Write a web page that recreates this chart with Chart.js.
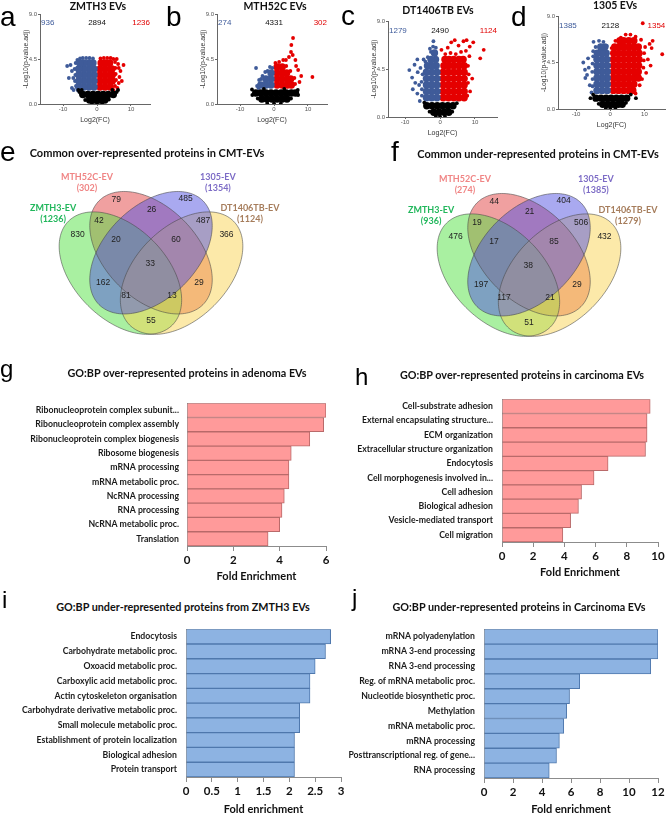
<!DOCTYPE html>
<html><head><meta charset="utf-8">
<script src="https://cdn.jsdelivr.net/npm/chart.js@4.4.1/dist/chart.umd.min.js"></script>
<style>
html,body{margin:0;padding:0;background:#fff;}
body{width:669px;height:814px;position:relative;overflow:hidden;}
canvas{position:absolute;}
.lt{position:absolute;font-family:'Liberation Sans',Arial,sans-serif;font-size:28px;line-height:28px;color:#000;}
.ls{position:absolute;font-family:'Liberation Sans',Arial,sans-serif;font-size:24px;line-height:24px;color:#000;}
.tt{position:absolute;transform:translate(-50%,-50%);font-family:Lato,sans-serif;font-weight:bold;font-size:10.8px;line-height:1;white-space:nowrap;color:#111;}
.vn{font-size:11px;}
.vt{position:absolute;transform:translate(-50%,-50%);font-family:Lato,sans-serif;font-weight:bold;font-size:10.5px;line-height:1;white-space:nowrap;color:#111;}
</style></head>
<body>
<canvas id="ca" width="165" height="130" style="left:0;top:0"></canvas>
<canvas id="cb" width="165" height="130" style="left:177px;top:0"></canvas>
<canvas id="cc" width="160" height="136" style="left:348px;top:7px"></canvas>
<canvas id="cd" width="151" height="133" style="left:518px;top:2px"></canvas>
<canvas id="ce" width="335" height="250" style="left:0;top:130px"></canvas>
<canvas id="cf" width="334" height="250" style="left:335px;top:132px"></canvas>
<canvas id="cg" width="335" height="195" style="left:0;top:390px"></canvas>
<canvas id="ch" width="334" height="200" style="left:335px;top:385px"></canvas>
<canvas id="ci" width="350" height="205" style="left:0;top:615px"></canvas>
<canvas id="cj" width="334" height="205" style="left:335px;top:615px"></canvas>

<div class="lt" style="left:0;top:3px">a</div>
<div class="lt" style="left:166px;top:3px">b</div>
<div class="lt" style="left:341px;top:2px">c</div>
<div class="lt" style="left:511px;top:3px">d</div>
<div class="lt" style="left:0;top:138px">e</div>
<div class="lt" style="left:391px;top:138px">f</div>
<div class="ls" style="left:0;top:357px">g</div>
<div class="ls" style="left:355px;top:365px">h</div>
<div class="ls" style="left:2px;top:588px">i</div>
<div class="ls" style="left:352px;top:586px">j</div>

<div class="vt" style="left:98px;top:6px">ZMTH3 EVs</div>
<div class="vt" style="left:275px;top:6px">MTH52C EVs</div>
<div class="vt" style="left:438px;top:10px">DT1406TB EVs</div>
<div class="vt" style="left:615px;top:5px">1305 EVs</div>
<div class="tt vn" style="left:147px;top:152px">Common over-represented proteins in CMT-EVs</div>
<div class="tt vn" style="left:538px;top:153px">Common under-represented proteins in CMT-EVs</div>
<div class="tt" style="left:187px;top:373px">GO:BP over-represented proteins in adenoma EVs</div>
<div class="tt" style="left:522px;top:375px">GO:BP over-represented proteins in carcinoma EVs</div>
<div class="tt" style="left:183px;top:607px">GO:BP under-represented proteins from ZMTH3 EVs</div>
<div class="tt" style="left:519px;top:607px">GO:BP under-represented proteins in Carcinoma EVs</div>

<script>
// ================= DATA =================
// Volcano plots: points as flat [x, y, x, y, ...] lists (log2 FC, -log10 adj. p)
// "Core" = dense body of each cloud, "Edge" = sparse outer points.
const volcXTicks = [-10, 0, 10];
const volcYTicks = [0, 4.5, 9];

// a: ZMTH3 EVs
const aCounts = ['936', '2894', '1236'];
const aBlackCore = [
 -4.2,0.95, -2.7,0.95, -1.2,0.95, 0.3,0.95, 1.8,0.95, 3.3,0.95, 4.8,0.95,
 -2.2,0.4, -0.7,0.4, 0.8,0.4, 2.3,0.4
];
const aBlackEdge = [-5.2,1.2, -5.5,1.4, 5.8,1.2, 6.2,1.4, -3.5,0.4, 3.5,0.45, 0,0.05, -1.5,0.1, 1.5,0.1, -4.5,1.4, 4.5,1.4];
const aBlueCore = [
 -0.9,1.7, -2.4,1.7, -3.9,1.7, -5.4,1.7,
 -0.9,2.3, -2.4,2.3, -3.9,2.3, -5.4,2.3,
 -0.9,2.9, -2.4,2.9, -3.9,2.9, -5.4,2.9,
 -0.9,3.5, -2.4,3.5, -3.9,3.5, -5.4,3.5,
 -1.2,4.1, -2.4,4.1, -3.9,4.1, -5.1,4.1
];
const aBlueEdge = [
 -1.2,4.55, -2.2,4.6, -3.2,4.6, -4.2,4.6, -5.0,4.55, -5.8,4.4, -6.3,4.1, -6.6,3.5, -6.4,2.9,
 -6.5,2.3, -6.2,1.8, -7.4,3.3, -8.8,3.8, -8.3,2.6, -7.4,1.6, -7.0,2.6, -7.8,3.9, -6.9,1.4, -5.6,1.35
];
const aRedCore = [
 0.9,1.7, 2.4,1.7, 3.9,1.7,
 0.9,2.3, 2.4,2.3, 3.9,2.3, 4.5,2.3,
 0.9,2.9, 2.4,2.9, 3.9,2.9, 4.5,2.9,
 0.9,3.5, 2.4,3.5, 3.9,3.5, 4.4,3.5,
 1.2,4.1, 2.4,4.1, 3.7,4.1
];
const aRedEdge = [
 1.0,4.55, 2.0,4.6, 3.0,4.6, 4.0,4.6, 4.8,4.5, 5.3,4.2, 5.4,3.6, 5.5,3.0, 5.6,2.4, 5.3,1.8, 4.8,1.4,
 6.4,2.1, 6.9,3.3, 7.8,3.9, 6.2,4.0, 6.6,2.7, 7.3,2.3, 6.0,1.6, 5.8,4.5, 6.4,3.6
];

// b: MTH52C EVs
const bCounts = ['274', '4331', '302'];
const bBlackCore = [
 -5.4,1.1, -3.9,1.1, -2.4,1.1, -0.9,1.1, 0.6,1.1, 2.1,1.1, 3.6,1.1, 5.1,1.1, 6.3,1.1,
 -3.6,0.5, -2.1,0.5, -0.6,0.5, 0.9,0.5, 2.4,0.5, 3.8,0.5
];
const bBlackEdge = [-2,0.05, 0,0.05, 2,0.05, -6.5,1.45, 7.0,1.4, -4.8,0.55, 5.0,0.55, -6.4,0.9, 7.1,0.9, -3,1.5, 3,1.5];
const bBlueCore = [
 -0.9,1.9, -2.4,1.9, -3.9,1.9,
 -0.9,2.5, -2.4,2.5,
 -0.9,3.1
];
const bBlueEdge = [
 -5.0,1.8, -4.6,1.6, -4.4,2.4, -3.4,2.8, -2.6,3.2, -1.9,3.3, -1.2,3.7, -0.5,3.6, -5.3,3.6, -3.8,2.5
];
const bRedCore = [
 0.9,1.9, 2.4,1.9, 3.9,1.9, 5.1,1.9,
 0.9,2.5, 2.4,2.5, 3.9,2.5, 4.9,2.5,
 0.9,3.1, 2.4,3.1, 3.7,3.1,
 0.9,3.7, 2.4,3.7
];
const bRedEdge = [
 1.5,4.2, 2.7,4.4, 4.4,4.7, 3.5,4.4, 3.6,3.8, 4.8,3.3, 6.2,2.0, 0.4,4.1,
 5.1,5.9, 5.6,6.6, 5.0,5.2, 6.3,4.4, 7.1,3.4, 8.0,2.8, 6.0,2.6, 6.5,3.8, 7.5,2.2, 5.5,4.9, 11.3,2.7
];

// c: DT1406TB EVs
const cCounts = ['1279', '2490', '1124'];
const cBlackCore = [
 -3.8,1.05, -2.3,1.05, -0.8,1.05, 0.7,1.05, 2.2,1.05, 3.7,1.05,
 -1.8,0.45, -0.3,0.45, 1.2,0.45, 2.5,0.45
];
const cBlackEdge = [-4.5,1.35, 4.8,1.3, 0,0.05, -1.2,0.1, 1.4,0.1, -3.0,0.5, 3.5,0.5];
const cBlueCore = [
 -0.9,1.8, -2.4,1.8, -3.9,1.8,
 -0.9,2.4, -2.4,2.4, -3.9,2.4,
 -0.9,3.0, -2.4,3.0, -3.9,3.0,
 -0.9,3.6, -2.4,3.6, -3.9,3.6,
 -0.9,4.2, -2.4,4.2, -3.9,4.2,
 -1.1,4.8, -2.4,4.8, -3.6,4.8,
 -1.3,5.4, -2.6,5.4,
 -1.6,6.0
];
const cBlueEdge = [
 -2.6,6.1, -2.0,6.6, -1.9,7.1, -1.2,6.5, -2.9,6.4, -3.5,5.6, -4.2,5.2,
 -5.2,2.0, -5.2,2.6, -5.3,3.3, -5.0,4.0, -5.6,4.6, -4.7,5.4, -6.5,5.4, -6.4,4.2,
 -7.1,3.2, -6.5,2.2, -8.8,4.4, -8.0,3.7, -7.8,2.6, -7.3,4.9, -6.0,3.0, -5.8,1.5
];
const cRedCore = [
 0.9,1.8, 2.4,1.8, 3.9,1.8, 5.4,1.8, 6.9,1.8,
 0.9,2.4, 2.4,2.4, 3.9,2.4, 5.4,2.4, 6.9,2.4,
 0.9,3.0, 2.4,3.0, 3.9,3.0, 5.4,3.0, 6.9,3.0,
 0.9,3.6, 2.4,3.6, 3.9,3.6, 5.4,3.6, 6.9,3.6,
 0.9,4.2, 2.4,4.2, 3.9,4.2, 5.4,4.2, 6.9,4.2,
 1.1,4.8, 2.4,4.8, 3.9,4.8, 5.4,4.8, 6.9,4.8,
 1.4,5.4, 2.6,5.4, 3.9,5.4, 5.4,5.4, 6.6,5.4
];
const cRedEdge = [
 1.5,5.9, 3.0,6.0, 4.5,5.9, 6.0,6.1, 2.2,6.5, 3.2,7.0, 4.2,7.2, 5.3,6.7, 6.7,7.1, 7.6,7.2,
 8.5,6.6, 9.5,7.0, 8.4,5.7, 8.0,4.8, 8.2,4.0, 8.0,3.2, 8.6,2.4, 7.8,2.0, 9.2,3.6,
 11.5,5.5, 12.5,6.3, 7.4,6.2, 0.4,6.3
];

// d: 1305 EVs
const dCounts = ['1385', '2128', '1354'];
const dBlackCore = [
 -4.2,1.05, -2.7,1.05, -1.2,1.05, 0.3,1.05, 1.8,1.05, 3.3,1.05, 4.8,1.05,
 -2.2,0.45, -0.7,0.45, 0.8,0.45, 2.3,0.45, 3.5,0.45
];
const dBlackEdge = [-5.8,1.05, 7.5,1.05, 6.0,1.4, -5.0,1.4, 0,0.05, -1.3,0.1, 1.5,0.1, -3.4,0.5, 4.6,0.6];
const dBlueCore = [
 -0.9,1.8, -2.4,1.8, -3.9,1.8,
 -0.9,2.4, -2.4,2.4, -3.9,2.4,
 -0.9,3.0, -2.4,3.0, -3.9,3.0,
 -0.9,3.6, -2.4,3.6, -3.9,3.6,
 -0.9,4.2, -2.4,4.2, -3.9,4.2,
 -1.0,4.8, -2.4,4.8, -3.9,4.8,
 -1.2,5.4, -2.5,5.4, -3.8,5.4,
 -1.6,6.0, -2.8,6.0
];
const dBlueEdge = [
 -2.0,6.5, -3.3,6.6, -4.9,6.5, -4.3,6.0, -1.0,6.1, -5.0,5.6,
 -5.2,2.2, -5.2,2.9, -5.3,3.6, -5.2,4.4, -5.0,5.1, -6.3,4.0, -6.8,3.3,
 -7.3,3.0, -7.9,4.5, -7.4,3.8, -6.5,4.9, -6.0,2.3, -5.5,1.6
];
const dRedCore = [
 0.9,1.8, 2.4,1.8, 3.9,1.8, 5.4,1.8, 6.6,1.8,
 0.9,2.4, 2.4,2.4, 3.9,2.4, 5.4,2.4, 6.9,2.4,
 0.9,3.0, 2.4,3.0, 3.9,3.0, 5.4,3.0, 6.9,3.0, 8.2,3.0,
 0.9,3.6, 2.4,3.6, 3.9,3.6, 5.4,3.6, 6.9,3.6, 8.2,3.6,
 0.9,4.2, 2.4,4.2, 3.9,4.2, 5.4,4.2, 6.9,4.2, 8.3,4.2,
 0.9,4.8, 2.4,4.8, 3.9,4.8, 5.4,4.8, 6.9,4.8, 8.4,4.8,
 1.0,5.4, 2.4,5.4, 3.9,5.4, 5.4,5.4, 6.9,5.4, 8.4,5.4,
 1.3,6.0, 2.5,6.0, 3.9,6.0, 5.4,6.0, 6.9,6.0, 8.2,6.0,
 2.8,6.6, 3.9,6.6, 5.4,6.6, 6.9,6.6
];
const dRedEdge = [
 9.7,4.0, 9.8,4.7, 9.9,5.4, 10.2,6.0, 11.0,4.8, 11.5,6.3, 12.4,6.6, 12.1,5.9, 9.0,6.7,
 15.2,5.3, 9.5,8.3, 4.5,7.2, 5.9,7.2, 3.1,6.9, 7.4,7.0, 10.5,3.5, 7.4,1.5,
 9.3,2.9, 11.8,4.2, 8.6,2.3, 1.5,6.6, 0.4,5.9
];

// Venn diagrams: region counts in a fixed region order
// [MTH52C only, 1305 only, MTH52C&1305, ZMTH3&MTH52C, 1305&DT1406TB, ZMTH3 only,
//  ZMTH3&MTH52C&1305, MTH52C&1305&DT1406TB, DT1406TB only, all four,
//  ZMTH3&1305, MTH52C&DT1406TB, ZMTH3&1305&DT1406TB, ZMTH3&MTH52C&DT1406TB, ZMTH3&DT1406TB]
const vennSets = ['MTH52C-EV', '1305-EV', 'ZMTH3-EV', 'DT1406TB-EV'];
const eSetSizes = ['(302)', '(1354)', '(1236)', '(1124)'];
const fSetSizes = ['(274)', '(1385)', '(936)', '(1279)'];
const eCounts = [79, 485, 26, 42, 487, 830, 20, 60, 366, 33, 162, 29, 81, 13, 55];
const fCounts = [44, 404, 21, 19, 506, 476, 17, 85, 432, 38, 197, 29, 117, 21, 51];

// GO:BP bar charts
const gLabels = ['Ribonucleoprotein complex subunit...', 'Ribonucleoprotein complex assembly', 'Ribonucleoprotein complex biogenesis', 'Ribosome biogenesis', 'mRNA processing', 'mRNA metabolic proc.', 'NcRNA processing', 'RNA processing', 'NcRNA metabolic proc.', 'Translation'];
const gValues = [6.0, 5.9, 5.3, 4.5, 4.4, 4.4, 4.2, 4.1, 4.0, 3.5];
const gTicks = [0, 2, 4, 6];

const hLabels = ['Cell-substrate adhesion', 'External encapsulating structure...', 'ECM organization', 'Extracellular structure organization', 'Endocytosis', 'Cell morphogenesis involved in...', 'Cell adhesion', 'Biological adhesion', 'Vesicle-mediated transport', 'Cell migration'];
const hValues = [9.5, 9.3, 9.3, 9.2, 6.8, 5.9, 5.1, 4.9, 4.4, 3.9];
const hTicks = [0, 2, 4, 6, 8, 10];

const iLabels = ['Endocytosis', 'Carbohydrate metabolic proc.', 'Oxoacid metabolic proc.', 'Carboxylic acid metabolic proc.', 'Actin cytoskeleton organisation', 'Carbohydrate derivative metabolic proc.', 'Small molecule metabolic proc.', 'Establishment of protein localization', 'Biological adhesion', 'Protein transport'];
const iValues = [2.8, 2.7, 2.5, 2.4, 2.4, 2.2, 2.2, 2.1, 2.1, 2.1];
const iTicks = [0, 0.5, 1, 1.5, 2, 2.5, 3];

const jLabels = ['mRNA polyadenylation', 'mRNA 3-end processing', 'RNA 3-end processing', 'Reg. of mRNA metabolic proc.', 'Nucleotide biosynthetic proc.', 'Methylation', 'mRNA metabolic proc.', 'mRNA processing', 'Posttranscriptional reg. of gene...', 'RNA processing'];
const jValues = [12.0, 12.0, 11.5, 6.6, 5.9, 5.7, 5.5, 5.2, 5.0, 4.5];
const jTicks = [0, 2, 4, 6, 8, 10, 12];

// ================= LAYOUT / STYLE =================
Chart.defaults.font.family = "'Liberation Sans', Arial, sans-serif";
Chart.defaults.animation = false;

function pairs(a) { const r = []; for (let i = 0; i < a.length; i += 2) r.push({x: a[i], y: a[i + 1]}); return r; }

const countText = {
  id: 'countText',
  afterDatasetsDraw(chart, args, opts) {
    const {ctx, chartArea: ca, scales: {x, y}} = chart;
    ctx.save();
    ctx.font = "8px 'Liberation Sans', Arial";
    ctx.textBaseline = 'middle';
    const yy = y.getPixelForValue(opts.yLevel);
    ctx.fillStyle = '#3d5a9a'; ctx.textAlign = 'left'; ctx.fillText(opts.vals[0], ca.left + 1, yy);
    ctx.fillStyle = '#111'; ctx.textAlign = 'center'; ctx.fillText(opts.vals[1], x.getPixelForValue(0), yy);
    ctx.fillStyle = '#e00000'; ctx.textAlign = 'right'; ctx.fillText(opts.vals[2], ca.right, yy);
    ctx.restore();
  }
};

const BLACK = '#000000', BLUE = '#3f5b99', RED = '#e50000';
function volcano(id, sets, xr, counts, pad) {
  const ds = sets.map(([arr, color, core]) => ({
    data: pairs(arr), backgroundColor: color, pointRadius: core ? 3.7 : 1.9,
    pointBorderWidth: 0, pointHoverRadius: 0
  }));
  return new Chart(document.getElementById(id), {
    type: 'scatter',
    data: {datasets: ds},
    options: {
      responsive: false, devicePixelRatio: 1, events: [],
      layout: {padding: pad},
      plugins: {legend: {display: false}, tooltip: {enabled: false}, countText: {vals: counts, yLevel: 8.1}},
      scales: {
        x: {type: 'linear', min: xr[0], max: xr[1],
          afterBuildTicks: s => { s.ticks = volcXTicks.map(v => ({value: v})); },
          afterFit: s => { s.height = 26; },
          grid: {drawOnChartArea: false, tickLength: 2, color: '#666'}, border: {color: '#666'},
          ticks: {font: {size: 6}, color: '#555', padding: 0, maxRotation: 0},
          title: {display: true, text: 'Log2(FC)', font: {size: 7}, color: '#333', padding: {top: 0, bottom: 6}}},
        y: {min: 0, max: 9,
          afterBuildTicks: s => { s.ticks = volcYTicks.map(v => ({value: v})); },
          afterFit: s => { s.width = 40; },
          grid: {drawOnChartArea: false, tickLength: 2, color: '#666'}, border: {color: '#666'},
          ticks: {font: {size: 6}, color: '#555', padding: 1, callback: v => Number(v).toFixed(1)},
          title: {display: true, text: '-Log10(p-value.adj)', font: {size: 6.8}, color: '#333', padding: {top: 22, bottom: 0}}}
      }
    },
    plugins: [countText]
  });
}

volcano('ca', [[aBlackCore, BLACK, 1], [aBlackEdge, BLACK, 0], [aBlueCore, BLUE, 1], [aBlueEdge, BLUE, 0], [aRedCore, RED, 1], [aRedEdge, RED, 0]],
  [-16.8, 15.6], aCounts, {left: 0, top: 14, right: 15, bottom: 0});
volcano('cb', [[bBlackCore, BLACK, 1], [bBlackEdge, BLACK, 0], [bBlueCore, BLUE, 1], [bBlueEdge, BLUE, 0], [bRedCore, RED, 1], [bRedEdge, RED, 0]],
  [-16.8, 15.6], bCounts, {left: 0, top: 14, right: 15, bottom: 0});
volcano('cc', [[cBlackCore, BLACK, 1], [cBlackEdge, BLACK, 0], [cBlueCore, BLUE, 1], [cBlueEdge, BLUE, 0], [cRedCore, RED, 1], [cRedEdge, RED, 0]],
  [-14.9, 16.3], cCounts, {left: 0, top: 14, right: 11, bottom: 0});
volcano('cd', [[dBlackCore, BLACK, 1], [dBlackEdge, BLACK, 0], [dBlueCore, BLUE, 1], [dBlueEdge, BLUE, 0], [dRedCore, RED, 1], [dRedEdge, RED, 0]],
  [-15.3, 16.1], dCounts, {left: 0, top: 14, right: 0, bottom: 0});

// ---- Venn ----
const vennShapes = [ // drawn in this order (unit square, y up)
  {cx: 0.50, cy: 0.57, rot: 135, fill: 'rgba(226,66,66,0.5)'},   // MTH52C
  {cx: 0.35, cy: 0.47, rot: 135, fill: 'rgba(84,226,68,0.5)'},   // ZMTH3
  {cx: 0.65, cy: 0.47, rot: 45,  fill: 'rgba(250,212,84,0.5)'},  // DT1406TB
  {cx: 0.50, cy: 0.57, rot: 45,  fill: 'rgba(84,84,226,0.5)'}    // 1305
];
const vennAxes = [0.36, 0.225];
const vennRegionPos = [[0.33,0.83],[0.67,0.833],[0.503,0.779],[0.245,0.725],[0.755,0.725],[0.14,0.657],[0.328,0.632],[0.623,0.632],[0.87,0.657],[0.496,0.515],[0.265,0.422],[0.735,0.422],[0.377,0.358],[0.603,0.358],[0.5,0.235]];
const vennSetPos = [[0.186,0.941,0.887],[0.828,0.941,0.887],[0.02,0.789,0.735],[0.985,0.789,0.733]];
const vennSetColors = ['#f08585', '#7d6cc6', '#22b75c', '#a67d5c'];

const vennPlugin = {
  id: 'venn',
  afterDraw(chart, args, opts) {
    const {ctx, scales: {x, y}} = chart;
    const [A, B] = vennAxes;
    function path(s) {
      const r = s.rot * Math.PI / 180;
      ctx.beginPath();
      for (let i = 0; i <= 160; i++) {
        const t = i / 160 * 2 * Math.PI, ex = A * Math.cos(t), ey = B * Math.sin(t);
        const px = x.getPixelForValue(s.cx + ex * Math.cos(r) - ey * Math.sin(r));
        const py = y.getPixelForValue(s.cy + ex * Math.sin(r) + ey * Math.cos(r));
        if (i) ctx.lineTo(px, py); else ctx.moveTo(px, py);
      }
      ctx.closePath();
    }
    ctx.save();
    vennShapes.forEach(s => { path(s); ctx.fillStyle = s.fill; ctx.fill(); });
    ctx.lineWidth = 0.8; ctx.strokeStyle = 'rgba(70,70,70,0.7)';
    vennShapes.forEach(s => { path(s); ctx.stroke(); });
    ctx.textAlign = 'center'; ctx.textBaseline = 'middle';
    ctx.font = "8.5px 'Liberation Sans', Arial"; ctx.fillStyle = '#222';
    opts.counts.forEach((c, i) => {
      ctx.fillText(String(c), x.getPixelForValue(vennRegionPos[i][0]), y.getPixelForValue(vennRegionPos[i][1]));
    });
    ctx.font = "bold 9px Lato, sans-serif";
    vennSets.forEach((n, i) => {
      ctx.fillStyle = vennSetColors[i];
      const px = x.getPixelForValue(vennSetPos[i][0]);
      ctx.fillText(n, px, y.getPixelForValue(vennSetPos[i][1]));
      ctx.fillText(opts.sizes[i], px, y.getPixelForValue(vennSetPos[i][2]));
    });
    ctx.restore();
  }
};

function venn(id, counts, sizes, pad) {
  return new Chart(document.getElementById(id), {
    type: 'scatter', data: {datasets: []},
    options: {responsive: false, devicePixelRatio: 1, events: [], layout: {padding: pad},
      plugins: {legend: {display: false}, tooltip: {enabled: false}, venn: {counts, sizes}},
      scales: {x: {display: false, min: 0, max: 1}, y: {display: false, min: 0, max: 1}}},
    plugins: [vennPlugin]
  });
}
venn('ce', eCounts, eSetSizes, {left: 49, right: 82, top: 35, bottom: 11});
venn('cf', fCounts, fSetSizes, {left: 92, right: 38, top: 35, bottom: 11});

// ---- Horizontal bars ----
function hbar(id, labels, values, ticks, max, color, border, pad, yW, xH, xTitle, labPad, titlePad) {
  return new Chart(document.getElementById(id), {
    type: 'bar',
    data: {labels, datasets: [{data: values, backgroundColor: color, borderColor: border, borderWidth: 1,
      barPercentage: 1, categoryPercentage: 1}]},
    options: {indexAxis: 'y', responsive: false, devicePixelRatio: 1, events: [],
      layout: {padding: pad},
      plugins: {legend: {display: false}, tooltip: {enabled: false}},
      scales: {
        x: {min: 0, max,
          afterBuildTicks: s => { s.ticks = ticks.map(v => ({value: v})); },
          afterFit: s => { s.height = xH; },
          grid: {drawOnChartArea: false, tickLength: 5, color: '#8c8c8c'}, border: {color: '#8c8c8c'},
          ticks: {font: {family: 'Lato', weight: 'bold', size: 11.5}, color: '#111', padding: 2, maxRotation: 0,
            callback: v => String(v)},
          title: {display: true, text: xTitle, font: {family: 'Lato', weight: 'bold', size: 11}, color: '#111', padding: {top: 0, bottom: titlePad}}},
        y: {afterFit: s => { s.width = yW; },
          grid: {display: false, drawTicks: false}, border: {display: true, color: '#8c8c8c'},
          ticks: {font: {family: 'Lato', weight: 'bold', size: 8.7}, color: '#1a1a1a', padding: labPad, autoSkip: false}}
      }
    }
  });
}
const redFill = '#ff9a9a', redLine = '#b96a6a', blueFill = '#8db3e2', blueLine = '#4f78ad';
hbar('cg', gLabels, gValues, gTicks, 6, redFill, redLine, {left: 0, top: 8, right: 9, bottom: 0}, 187, 39, 'Fold Enrichment', 8, 2);
hbar('ch', hLabels, hValues, hTicks, 10, redFill, redLine, {left: 0, top: 7, right: 11, bottom: 0}, 167, 43, 'Fold Enrichment', 9, 6);
hbar('ci', iLabels, iValues, iTicks, 3, blueFill, blueLine, {left: 0, top: 10, right: 9, bottom: 0}, 186, 43, 'Fold enrichment', 9, 4);
hbar('cj', jLabels, jValues, jTicks, 12, blueFill, blueLine, {left: 0, top: 11, right: 11, bottom: 0}, 149, 42, 'Fold enrichment', 9, 4);
</script>
</body></html>
